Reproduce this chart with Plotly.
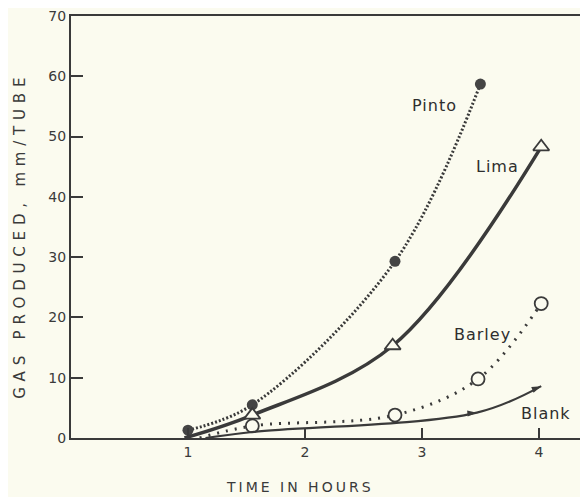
import plotly.graph_objects as go

# Data
pinto_x = [1.0, 1.55, 2.77, 3.5]
pinto_y = [1.3, 5.5, 29.3, 58.7]

lima_x = [0.97, 1.55, 2.75, 4.02]
lima_y = [0.0, 3.8, 15.3, 48.3]

barley_x = [1.1, 1.55, 2.77, 3.48, 4.02]
barley_y = [0.0, 2.0, 3.8, 9.8, 22.3]

blank_x = [1.15, 1.55, 3.47, 4.02]
blank_y = [0.0, 1.0, 4.2, 8.6]

x_ticks = [1, 2, 3, 4]
y_ticks = [0, 10, 20, 30, 40, 50, 60, 70]

x_title = "TIME IN HOURS"
y_title = "GAS PRODUCED, mm/TUBE"

INK = "#3a3a3a"
BG = "#fbfbef"
FONT = "DejaVu Sans"

fig = go.Figure()

# Pinto: dense dotted line, filled circles
fig.add_trace(go.Scatter(x=pinto_x, y=pinto_y, mode="lines",
                         line=dict(color=INK, width=3, dash="2px 2px", shape="spline"),
                         hoverinfo="skip", showlegend=False))
fig.add_trace(go.Scatter(x=pinto_x, y=pinto_y, mode="markers",
                         marker=dict(symbol="circle", size=11, color="#444444"),
                         showlegend=False))

# Lima: thick solid line, open triangles
fig.add_trace(go.Scatter(x=lima_x, y=lima_y, mode="lines",
                         line=dict(color=INK, width=3.5, shape="spline"),
                         hoverinfo="skip", showlegend=False))
fig.add_trace(go.Scatter(x=lima_x[1:], y=lima_y[1:], mode="markers",
                         marker=dict(symbol="triangle-up", size=14, color=BG,
                                     line=dict(color=INK, width=1.8)),
                         showlegend=False))

# Barley: sparse dotted line, open circles
fig.add_trace(go.Scatter(x=barley_x, y=barley_y, mode="lines",
                         line=dict(color=INK, width=3, dash="2px 7px", shape="spline"),
                         hoverinfo="skip", showlegend=False))
fig.add_trace(go.Scatter(x=barley_x[1:], y=barley_y[1:], mode="markers",
                         marker=dict(symbol="circle", size=13, color=BG,
                                     line=dict(color=INK, width=1.8)),
                         showlegend=False))

# Blank: thin solid line, arrow markers
fig.add_trace(go.Scatter(x=blank_x, y=blank_y, mode="lines",
                         line=dict(color=INK, width=2.2, shape="spline"),
                         hoverinfo="skip", showlegend=False))
fig.add_trace(go.Scatter(x=blank_x[1:], y=blank_y[1:], mode="markers",
                         marker=dict(symbol="arrow", angleref="previous", size=10, color=INK,
                                     line=dict(width=0)),
                         showlegend=False))

labels = [("Pinto", 3.11, 55.2), ("Lima", 3.65, 45.0), ("Barley", 3.52, 17.2), ("Blank", 4.06, 4.0)]
for t, x, y in labels:
    fig.add_annotation(x=x, y=y, text=f'<span style="letter-spacing:1px">{t}</span>',
                       showarrow=False,
                       font=dict(family=FONT, size=16, color="#2e2e2e"))

# Axis titles
fig.add_annotation(xref="paper", yref="paper", x=0.443, y=-0.116,
                   xanchor="center", yanchor="middle",
                   text=f'<span style="letter-spacing:3px">{x_title}</span>',
                   showarrow=False, font=dict(family=FONT, size=14, color=INK))
fig.add_annotation(xref="paper", yref="paper", x=-0.099, y=0.481, textangle=-90,
                   xanchor="center", yanchor="middle",
                   text=f'<span style="letter-spacing:5.8px">{y_title}</span>',
                   showarrow=False, font=dict(family=FONT, size=15, color=INK))

fig.update_layout(
    width=580, height=489,
    margin=dict(l=63, r=0, t=8, b=59),
    paper_bgcolor=BG, plot_bgcolor=BG,
    font=dict(family=FONT, size=14, color=INK),
    xaxis=dict(range=[0, 4.42], tickvals=x_ticks, ticktext=[str(v) for v in x_ticks],
               ticks="inside", ticklen=10, tickwidth=1.5, tickcolor=INK,
               showline=True, linecolor=INK, linewidth=2, mirror=True,
               showgrid=False, zeroline=False, ticklabeloverflow="allow"),
    yaxis=dict(range=[0, 70], tickvals=y_ticks,
               ticks="inside", ticklen=12, tickwidth=1.5, tickcolor=INK,
               showline=True, linecolor=INK, linewidth=2,
               showgrid=False, zeroline=False, ticklabeloverflow="allow"),
)

fig.write_html("out.html")
